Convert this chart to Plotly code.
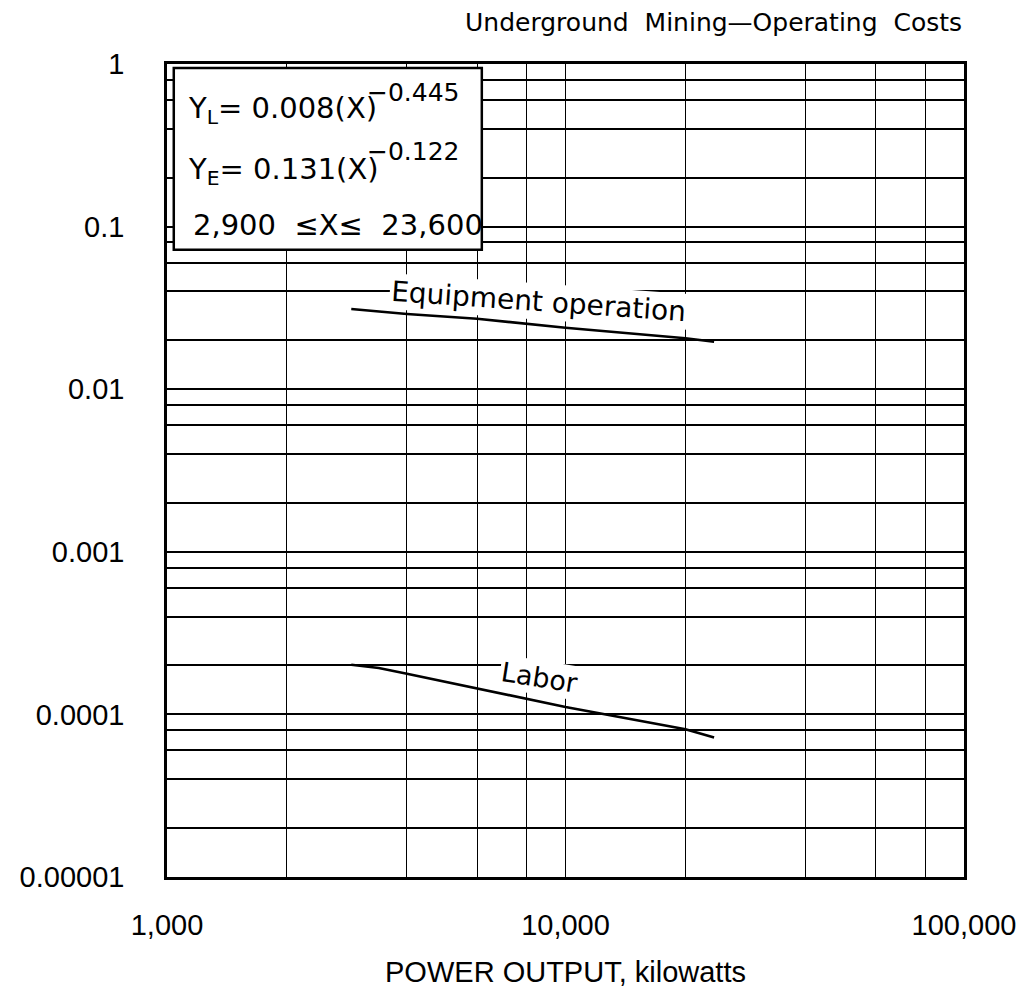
import numpy as np
import plotly.graph_objects as go

# ---- data ----
equip_x = [2900, 4000, 6000, 8000, 10000, 20000, 23600]
equip_y = [0.0311, 0.0290, 0.0271, 0.0252, 0.0239, 0.0206, 0.0196]

labor_x = [2900, 3400, 4000, 6000, 8000, 10000, 20000, 23600]
labor_y = [2.02e-4, 1.93e-4, 1.78e-4, 1.45e-4, 1.25e-4, 1.11e-4, 8.1e-5, 7.2e-5]

x_major = [1000, 10000, 100000]
x_major_text = ["1,000", "10,000", "100,000"]
x_minor = [2000, 4000, 6000, 8000, 20000, 40000, 60000, 80000]

y_major = [1e-5, 1e-4, 1e-3, 1e-2, 1e-1, 1]
y_major_text = ["0.00001", "0.0001", "0.001", "0.01", "0.1", "1"]
y_minor = [m * 10.0 ** e for e in range(-5, 0) for m in (2, 4, 6, 8)]

BLACK = "#000000"
LAB_FONT = "Liberation Sans, Arial, sans-serif"
TXT_FONT = "DejaVu Sans, sans-serif"

fig = go.Figure()
fig.add_trace(go.Scatter(x=equip_x, y=equip_y, mode="lines",
                         line=dict(color=BLACK, width=2.6), name="Equipment operation",
                         showlegend=False))
fig.add_trace(go.Scatter(x=labor_x, y=labor_y, mode="lines",
                         line=dict(color=BLACK, width=2.6), name="Labor",
                         showlegend=False))

fig.update_xaxes(type="log", range=[3, 5],
                 tickvals=x_major, ticktext=x_major_text, ticks="",
                 showgrid=True, gridcolor=BLACK, gridwidth=1.3,
                 minor=dict(tickvals=x_minor, showgrid=True, gridcolor=BLACK,
                            gridwidth=1.3, ticks=""),
                 showline=True, linecolor=BLACK, linewidth=2.5, mirror=True,
                 zeroline=False,
                 tickfont=dict(family=LAB_FONT, size=29, color=BLACK),
                 ticklabelstandoff=20,
                 title=dict(text="POWER OUTPUT, kilowatts", standoff=23,
                            font=dict(family=LAB_FONT, size=29, color=BLACK)))
fig.update_yaxes(type="log", range=[-5, 0],
                 tickvals=y_major, ticktext=y_major_text, ticks="",
                 showgrid=True, gridcolor=BLACK, gridwidth=2,
                 minor=dict(tickvals=y_minor, showgrid=True, gridcolor=BLACK,
                            gridwidth=2, ticks=""),
                 showline=True, linecolor=BLACK, linewidth=2.5, mirror=True,
                 zeroline=False,
                 tickfont=dict(family=LAB_FONT, size=29, color=BLACK),
                 ticklabelstandoff=34)

# equation box
fig.add_shape(type="rect", xref="paper", yref="paper",
              x0=0.0085, x1=0.395, y0=0.7716, y1=0.995,
              line=dict(color=BLACK, width=2.5), fillcolor="white", layer="above")

def ann(text, x, y, size, xanchor="left", angle=0, bg=None, family=TXT_FONT):
    fig.add_annotation(text=text, x=x, y=y, xref="paper", yref="paper",
                       xanchor=xanchor, yanchor="middle", showarrow=False,
                       textangle=angle, bgcolor=bg,
                       font=dict(family=family, size=size, color=BLACK))

ann("Y<sub>L</sub>= 0.008(X)", 0.0242, 0.944, 29)
ann("−0.445", 0.2479, 0.9648, 25)
ann("Y<sub>E</sub>= 0.131(X)", 0.0242, 0.8688, 29)
ann("−0.122", 0.2479, 0.8918, 25)
ann("2,900  ≤X≤  23,600", 0.0302, 0.8019, 29)

# curve labels
ann("Equipment operation", 0.466, 0.708, 28, xanchor="center", angle=4, bg="white")
ann("Labor", 0.468, 0.245, 27, xanchor="center", angle=9, bg="white")

# title
ann("Underground  Mining—Operating  Costs", 1.0, 1.051, 25, xanchor="right")

# the page body has an 8px default margin, so the figure is sized to fit the window
fig.update_layout(width=1020, height=988,
                  margin=dict(l=140, r=53, t=56, b=109),
                  plot_bgcolor="white", paper_bgcolor="white",
                  showlegend=False)

fig.write_html("out.html")
